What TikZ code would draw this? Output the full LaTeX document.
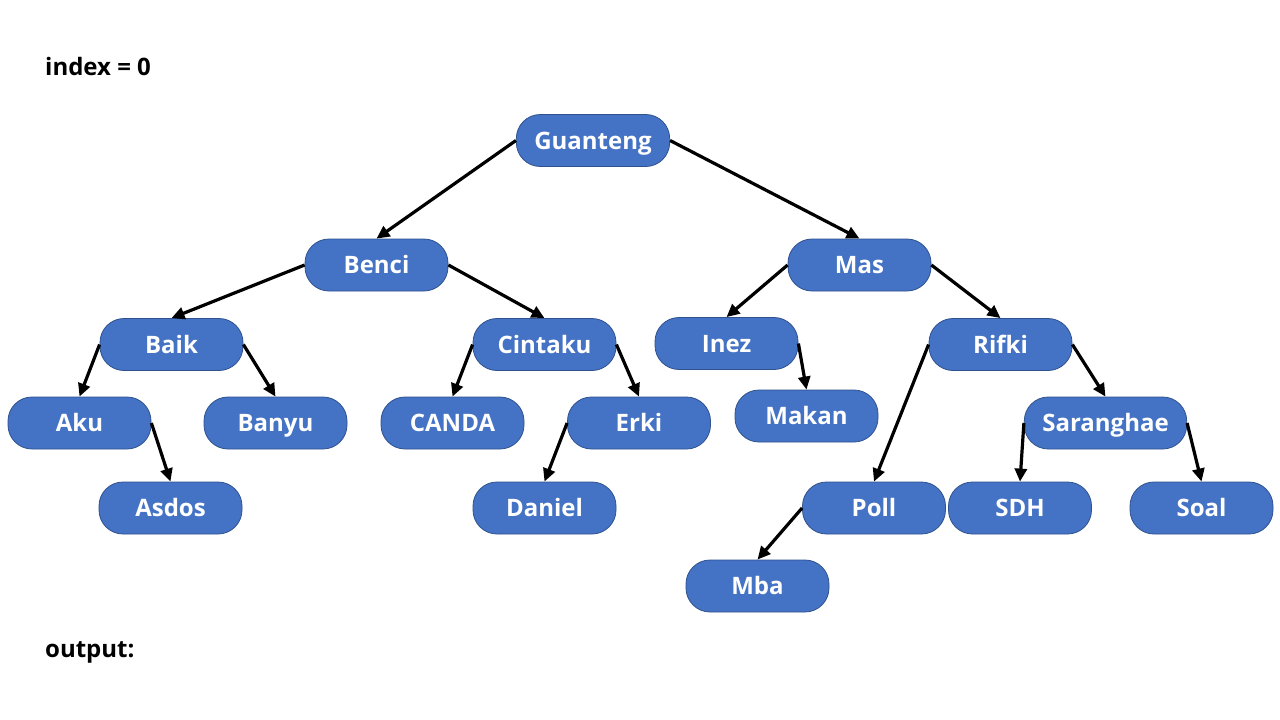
\documentclass[tikz,border=0pt]{standalone}
\usepackage{fontspec}
\setmainfont{Open Sans}
\usetikzlibrary{arrows.meta}

\tikzset{
  word/.style={draw=wordedge, line width=0.8pt, fill=wordblue, text=white,
    rounded corners=24pt, minimum width=143pt, minimum height=52pt, inner xsep=18pt,
    text height=22pt, text depth=5pt,
    font=\fontsize{24}{28}\selectfont\bfseries},
  link/.style={line width=3.2pt, -{Triangle[length=13pt,width=12pt]}},
  caption/.style={anchor=west, inner sep=0pt, font=\fontsize{24}{28}\selectfont\bfseries}
}
\definecolor{wordblue}{HTML}{4472C4}
\definecolor{wordedge}{HTML}{2F528F}

\begin{document}
\begin{tikzpicture}[x=1pt,y=-1pt]
    \useasboundingbox[fill=white] (0,0) rectangle (1280,720);
    \node[caption] (idx) at (45,66) {index = 0};
    \node[caption] (out) at (45,652) {output:};
    % level 0 and 1
    \node[word] (guanteng) at (593,140.5) {Guanteng};
    \node[word] (benci) at (376.5,265) {Benci};
    \node[word] (mas) at (859.5,265) {Mas};
    % level 2
    \node[word] (baik) at (171.5,344.5) {Baik};
    \node[word] (cintaku) at (544.5,344.5) {Cintaku};
    \node[word] (inez) at (726.5,343.5) {Inez};
    \node[word] (rifki) at (1000.5,344.5) {Rifki};
    % level 3
    \node[word] (aku) at (79.5,423) {Aku};
    \node[word] (banyu) at (275.5,423) {Banyu};
    \node[word] (canda) at (452.5,423) {CANDA};
    \node[word] (erki) at (639,423) {Erki};
    \node[word] (makan) at (806.5,416) {Makan};
    \node[word] (saranghae) at (1105.5,423) {Saranghae};
    % level 4 and 5
    \node[word] (asdos) at (170.5,508) {Asdos};
    \node[word] (daniel) at (544.5,508) {Daniel};
    \node[word] (poll) at (874,508) {Poll};
    \node[word] (sdh) at (1020,508) {SDH};
    \node[word] (soal) at (1201.5,508) {Soal};
    \node[word] (mba) at (757.5,586) {Mba};

    \draw[link] (guanteng.west) -- (benci.north);
    \draw[link] (guanteng.east) -- (mas.north);
    \draw[link] (benci.west) -- (baik.north);
    \draw[link] (benci.east) -- (cintaku.north);
    \draw[link] (mas.west) -- (inez.north);
    \draw[link] (mas.east) -- (rifki.north);
    \draw[link] (baik.west) -- (aku.north);
    \draw[link] (baik.east) -- (banyu.north);
    \draw[link] (cintaku.west) -- (canda.north);
    \draw[link] (cintaku.east) -- (erki.north);
    \draw[link] (inez.east) -- (makan.north);
    \draw[link] (rifki.west) -- (poll.north);
    \draw[link] (rifki.east) -- (saranghae.north);
    \draw[link] (aku.east) -- (asdos.north);
    \draw[link] (erki.west) -- (daniel.north);
    \draw[link] (saranghae.west) -- (sdh.north);
    \draw[link] (saranghae.east) -- (soal.north);
    \draw[link] (poll.west) -- (mba.north);
\end{tikzpicture}
\end{document}
